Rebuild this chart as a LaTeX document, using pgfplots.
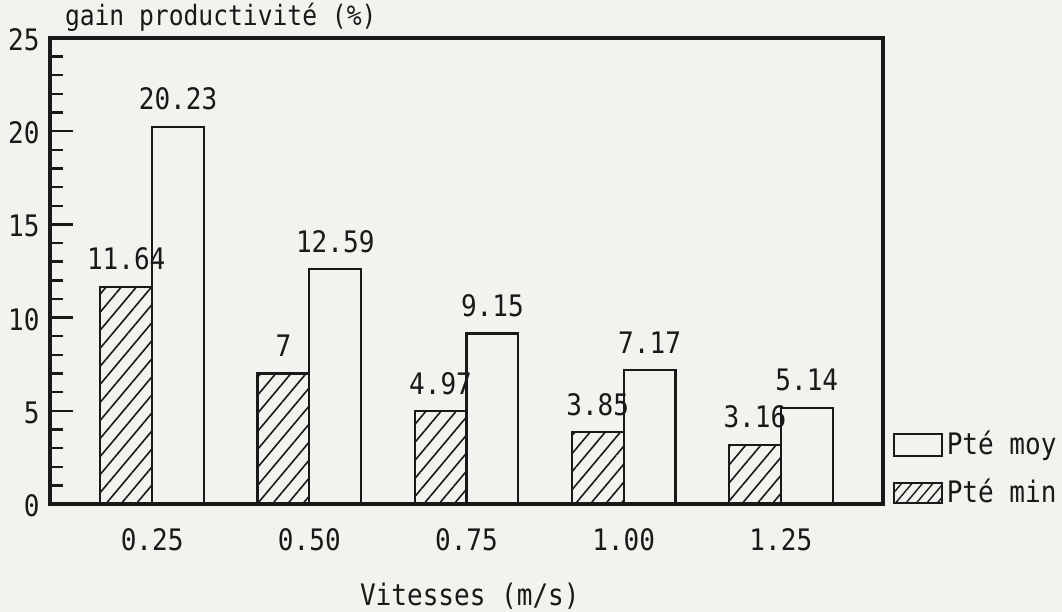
\documentclass[border=0pt]{standalone}
\usepackage{fontspec}
\setmainfont[FakeStretch=0.88]{DejaVu Sans Mono}
\usepackage{pgfplots}
\pgfplotsset{compat=1.18}
\usetikzlibrary{patterns.meta}
\definecolor{paper}{RGB}{242,242,238}
\definecolor{ink}{RGB}{25,25,25}
\newcommand{\fs}{\fontsize{14.8bp}{17bp}\selectfont}
\begin{document}
\fs
\begin{tikzpicture}
\fill[paper] (-25bp,-54bp) rectangle (506bp,252bp);
\begin{axis}[
  scale only axis, width=416.5bp, height=233bp,
  at={(0,0)}, anchor=south west,
  xmin=-0.65, xmax=4.65, ymin=0, ymax=25,
  axis line style={line width=1.7bp, ink},
  ybar, bar width=0.33,
  xtick={0,1,2,3,4}, xticklabels={0.25,0.50,0.75,1.00,1.25},
  x tick style={draw=none},
  ytick={0,5,10,15,20,25}, minor ytick={1,2,3,4,6,7,8,9,11,12,13,14,16,17,18,19,21,22,23,24},
  ytick pos=left, tick align=inside,
  major tick length=11.5bp, minor tick length=6.5bp,
  every tick/.style={line width=1.2bp, ink},
  /pgf/number format/assume math mode=true,
  tick label style={font=\fs, text=ink},
  yticklabel style={anchor=east, inner sep=0pt, xshift=-5bp, yshift=-1bp},
  xticklabel style={anchor=center, inner sep=0pt, yshift=-18bp},
  nodes near coords style={anchor=center, yshift=14bp, inner sep=0pt, font=\fs, text=ink},
  legend style={draw=none, fill=none, at={(axis description cs:1.011,-0.012)}, anchor=south west,
    inner sep=0pt, row sep=8bp, column sep=1bp, font=\fs, text=ink,
    nodes={inner sep=1bp}},
  legend cell align=left,
  clip=false,
]
\addplot[draw=ink, fill=none, line width=1.1bp, bar shift=0.165,
  nodes near coords, point meta=explicit symbolic,
  legend image code/.code={\draw[draw=ink, line width=1.1bp] (0bp,-5.5bp) rectangle (24bp,5.5bp);}]
  coordinates {(0,20.23) [20.23] (1,12.59) [12.59] (2,9.15) [9.15] (3,7.17) [7.17] (4,5.14) [5.14]};
\addlegendentry{Pté moy}
\addplot[draw=ink, line width=1.1bp, bar shift=-0.165,
  pattern={Lines[angle=50,distance=5.8bp,line width=0.8bp]}, pattern color=ink,
  nodes near coords, point meta=explicit symbolic,
  legend image code/.code={\draw[draw=ink, line width=1.1bp, pattern={Lines[angle=50,distance=4bp,line width=0.7bp]}, pattern color=ink] (0bp,-5bp) rectangle (24bp,5bp);}]
  coordinates {(0,11.64) [11.64] (1,7) [7] (2,4.97) [4.97] (3,3.85) [3.85] (4,3.16) [3.16]};
\addlegendentry{Pté min}
\node[text=ink, font=\fontsize{14bp}{16bp}\selectfont] at (axis description cs:0.205,1.045) {gain productivité (\%)};
\node[text=ink] at (axis description cs:0.504,-0.197) {Vitesses (m/s)};
\end{axis}
\pgfresetboundingbox
\path[use as bounding box] (-25bp,-54bp) rectangle (506bp,252bp);
\end{tikzpicture}
\end{document}
